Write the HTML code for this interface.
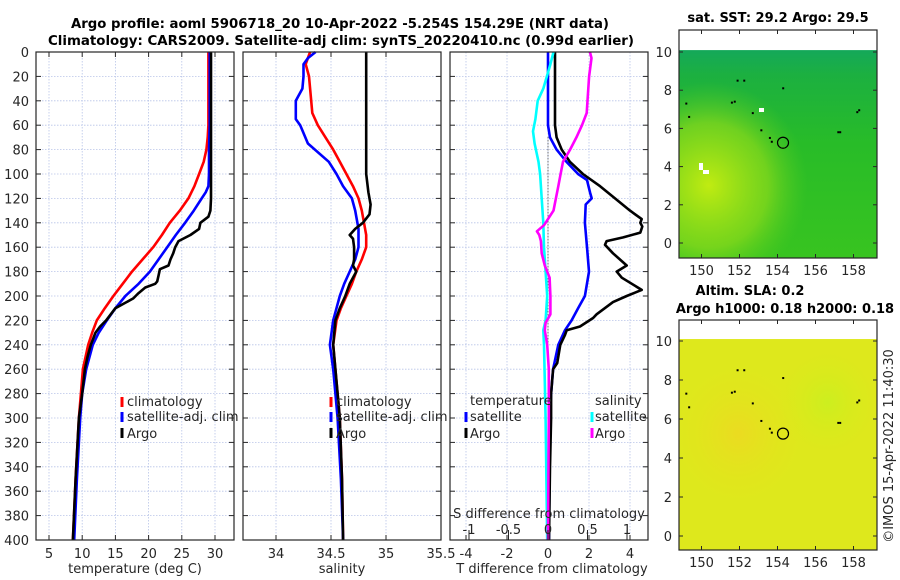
<!DOCTYPE html>
<html><head><meta charset="utf-8"><style>
html,body{margin:0;padding:0;background:#fff;}
svg{display:block;font-family:"DejaVu Sans","Liberation Sans",sans-serif;}
</style></head><body>
<svg id="fig" width="900" height="580" viewBox="0 0 900 580" xmlns="http://www.w3.org/2000/svg">
<defs>
<linearGradient id="sstg" x1="0" y1="0" x2="0" y2="1">
<stop offset="0" stop-color="#14a85a"/><stop offset="0.12" stop-color="#1cb040"/><stop offset="0.45" stop-color="#28bc28"/><stop offset="1" stop-color="#38c420"/>
</linearGradient>
<radialGradient id="sstw" cx="0.15" cy="0.65" r="0.5">
<stop offset="0" stop-color="#c8ee10" stop-opacity="0.95"/><stop offset="0.6" stop-color="#a0e018" stop-opacity="0.6"/><stop offset="1" stop-color="#60d020" stop-opacity="0"/>
</radialGradient>
<radialGradient id="slao" cx="0.3" cy="0.45" r="0.35">
<stop offset="0" stop-color="#eed822" stop-opacity="0.8"/><stop offset="1" stop-color="#e2e61a" stop-opacity="0"/>
</radialGradient>
<radialGradient id="slag" cx="0.75" cy="0.3" r="0.25">
<stop offset="0" stop-color="#c8f020" stop-opacity="0.8"/><stop offset="1" stop-color="#d8ec18" stop-opacity="0"/>
</radialGradient>
</defs>
<g id="root"></g>
</svg>
<script>
// ---------- data ----------
const depthTicks = [0,20,40,60,80,100,120,140,160,180,200,220,240,260,280,300,320,340,360,380,400];
const tempTicks = [5,10,15,20,25,30];
const salTicks = [34,34.5,35,35.5];
const tdiffTicks = [-4,-2,0,2,4];
const sdiffTicks = [-1,-0.5,0,0.5,1];
const sdiffTickLabels = ["-1","-0.5","0","0.5","1"];

const climTDepth = [0,20,40,60,70,80,90,100,110,120,130,140,150,160,170,180,190,200,210,220,230,240,260,280,300,350,400];
const climTemp   = [29.0,29.0,29.0,29.0,28.9,28.7,28.3,27.6,26.9,26.0,24.7,23.2,22.0,20.7,19.1,17.5,16.1,14.7,13.4,12.2,11.5,10.9,10.1,9.8,9.5,9.0,8.6];
const satTDepth = [0,20,40,60,80,100,110,115,120,130,140,150,160,170,180,190,200,210,220,230,240,260,280,300,350,400];
const satTemp   = [29.2,29.2,29.2,29.2,29.1,29.1,29.0,28.6,28.0,26.8,25.5,24.1,22.8,21.5,20.2,18.5,16.5,15.0,13.7,12.5,11.6,10.6,10.0,9.7,9.2,8.8];
const argoTDepth = [0,40,80,120,130,135,140,145,150,155,160,165,170,175,178,183,188,190,193,198,202,210,220,225,230,240,250,260,280,300,350,400];
const argoTemp   = [29.4,29.4,29.4,29.4,29.3,29.0,27.8,27.6,26.3,24.5,24.0,23.7,23.3,23.0,21.7,21.5,21.3,21.0,19.5,18.4,17.7,15.0,13.6,12.7,12.0,11.3,10.8,10.4,10.0,9.5,9.0,8.6];

const climSDepth = [0,10,20,40,50,60,70,80,90,100,110,120,130,140,150,160,170,180,190,200,210,220,240,260,280,300,350,400];
const climSal    = [34.31,34.27,34.30,34.32,34.33,34.38,34.45,34.52,34.58,34.64,34.70,34.75,34.78,34.80,34.82,34.82,34.78,34.73,34.69,34.64,34.59,34.55,34.52,34.54,34.56,34.58,34.60,34.61];
const satSDepth = [0,5,10,20,30,40,55,60,75,90,100,110,120,130,145,160,170,180,190,200,210,220,240,260,300,350,400];
const satSal    = [34.36,34.29,34.25,34.25,34.24,34.18,34.18,34.22,34.29,34.48,34.55,34.61,34.69,34.72,34.75,34.75,34.72,34.67,34.62,34.58,34.55,34.52,34.49,34.52,34.56,34.59,34.61];
const argoSDepth = [0,50,100,115,125,133,140,145,150,153,160,170,175,180,190,200,210,220,240,260,300,350,400];
const argoSal    = [34.82,34.82,34.82,34.84,34.86,34.85,34.79,34.72,34.67,34.70,34.71,34.71,34.70,34.73,34.67,34.63,34.58,34.54,34.52,34.54,34.58,34.60,34.61];

const dTsatDepth = [0,60,70,80,90,100,105,115,120,125,140,160,180,200,210,220,228,240,260,280,300,400];
const dTsat      = [0.0,0.0,0.1,0.42,0.9,1.47,1.9,2.05,2.13,1.84,1.8,1.9,2.0,1.8,1.47,1.15,0.83,0.5,0.25,0.15,0.1,0.05];
const dTargoDepth = [0,60,70,80,90,100,110,120,130,137,140,143,148,152,155,158,165,175,180,185,195,200,205,215,218,225,228,232,240,255,260,280,300,340,400];
const dTargo      = [0.34,0.34,0.42,0.67,1.07,1.7,2.54,3.27,4.0,4.57,4.5,4.6,4.5,3.67,2.86,2.78,3.17,3.84,3.35,3.6,4.57,3.84,3.17,2.37,2.2,1.56,0.91,0.83,0.6,0.45,0.25,0.15,0.15,0.1,0.05];
const dSsatDepth = [0,10,30,40,55,65,75,90,100,120,140,160,180,200,220,228,240,300,400];
const dSsat      = [0.07,0.03,-0.06,-0.13,-0.16,-0.19,-0.17,-0.12,-0.1,-0.08,-0.06,-0.05,-0.03,-0.01,-0.03,-0.06,-0.05,-0.03,-0.01];
const dSargoDepth = [0,5,20,40,50,60,70,80,90,100,110,120,130,137,142,147,150,155,165,175,185,200,215,222,228,240,260,300,400];
const dSargo      = [0.53,0.55,0.52,0.5,0.49,0.43,0.36,0.28,0.19,0.16,0.13,0.1,0.07,0.0,-0.05,-0.14,-0.11,-0.09,-0.08,-0.04,0.02,0.03,0.03,-0.03,-0.04,-0.01,0.01,0.01,0.0];

const mapLatTicks = [0,2,4,6,8,10];
const mapLonTicks = [150,152,154,156,158];
const argoLon = 154.29, argoLat = 5.25;
const islandLon = [151.6,151.75,151.9,152.25,152.7,153.15,153.6,153.7,154.3,157.2,157.3,158.2,158.3,149.2,149.35];
const islandLat = [7.35,7.4,8.5,8.5,6.8,5.9,5.5,5.3,8.1,5.8,5.8,6.85,6.95,7.3,6.6];

// ---------- helpers ----------
const NS = "http://www.w3.org/2000/svg";
const root = document.getElementById('root');
function mk(tag, attrs, parent){ const e=document.createElementNS(NS,tag); for(const k in attrs) e.setAttribute(k,attrs[k]); (parent||root).appendChild(e); return e; }
function txt(x,y,s,attrs,parent){ const e=mk('text',Object.assign({x:x,y:y,'font-size':13,fill:'#262626'},attrs||{}),parent); e.textContent=s; return e; }

const Y0=52, Y1=540;
function yD(d){ return Y0 + d/400*(Y1-Y0); }
function lin(d0,d1,r0,r1){ return v => r0 + (v-d0)/(d1-d0)*(r1-r0); }

const xT  = lin(5,30,49,215);
const xS  = lin(34,35.5,276,441);
const xdT = lin(0,4,548,630);
const xdS = lin(0,1,548,627);

function panel(x0,x1,name,xticks,xfun,xlabels){
  const g = mk('g',{});
  
  
  // grid
  depthTicks.forEach(d=>{ if(d>0&&d<400) mk('line',{x1:x0,x2:x1,y1:yD(d),y2:yD(d),stroke:'#b8c4e8','stroke-width':0.8,'stroke-dasharray':'1.5,1.5'},g); });
  xticks.forEach(v=>{ const x=xfun(v); if(x>x0+1&&x<x1-1) mk('line',{x1:x,x2:x,y1:Y0,y2:Y1,stroke:'#b8c4e8','stroke-width':0.8,'stroke-dasharray':'1.5,1.5'},g); });
  return g;
}
function frame(x0,x1,g,xticks,xfun,topTicks){
  depthTicks.forEach(d=>{ const y=yD(d);
    mk('line',{x1:x0,x2:x0+5,y1:y,y2:y,stroke:'#262626','stroke-width':1},g);
    mk('line',{x1:x1-5,x2:x1,y1:y,y2:y,stroke:'#262626','stroke-width':1},g); });
  xticks.forEach(v=>{ const x=xfun(v);
    mk('line',{x1:x,x2:x,y1:Y1,y2:Y1-5,stroke:'#262626','stroke-width':1},g);
    if(topTicks) mk('line',{x1:x,x2:x,y1:Y0,y2:Y0+5,stroke:'#262626','stroke-width':1},g); });
  mk('rect',{x:x0,y:Y0,width:x1-x0,height:Y1-Y0,fill:'none',stroke:'#262626','stroke-width':1.2},g);
}
function line(g,depths,vals,xfun,color,name,w){
  const pts = depths.map((d,i)=>xfun(vals[i]).toFixed(1)+','+yD(d).toFixed(1)).join(' ');
  const p = mk('polyline',{points:pts,fill:'none',stroke:color,'stroke-width':w||2.6,'stroke-linejoin':'round'},g);
  
  
  return p;
}
function legendMark(g,x,y,color){ mk('line',{x1:x,x2:x,y1:y-10,y2:y,stroke:color,'stroke-width':3},g); }

// ---------- titles ----------
const t1 = txt(340,28,"Argo profile: aoml 5906718_20 10-Apr-2022 -5.254S 154.29E (NRT data)",{'font-weight':'bold','text-anchor':'middle',fill:'#000',textLength:538,lengthAdjust:'spacingAndGlyphs'});
 
const t2 = txt(341,45,"Climatology: CARS2009. Satellite-adj clim: synTS_20220410.nc (0.99d earlier)",{'font-weight':'bold','text-anchor':'middle',fill:'#000',textLength:586,lengthAdjust:'spacingAndGlyphs'});
 

// y tick labels
depthTicks.forEach(d=>{ const e=txt(29,yD(d)+5,String(d),{'text-anchor':'end'});
    });

// ---------- panel 1: temperature ----------
const g1 = panel(36,234,'temperature-panel',tempTicks,xT);
line(g1,climTDepth,climTemp,xT,'#ff0000','climatology-temp-line');
line(g1,satTDepth,satTemp,xT,'#0000ff','satellite-temp-line');
line(g1,argoTDepth,argoTemp,xT,'#000000','argo-temp-line');
frame(36,234,g1,tempTicks,xT,true);
tempTicks.forEach(v=>txt(xT(v),558,String(v),{'text-anchor':'middle'},g1));
const xl1=txt(135,573,"temperature (deg C)",{'text-anchor':'middle'},g1);
 
const lg1 = mk('g',{},g1);  
legendMark(lg1,122,407,'#ff0000'); txt(127,406,"climatology",{},lg1);
legendMark(lg1,122,422,'#0000ff'); txt(127,421,"satellite-adj. clim",{},lg1);
legendMark(lg1,122,438,'#000000'); txt(127,438,"Argo",{},lg1);

// ---------- panel 2: salinity ----------
const g2 = panel(243,441,'salinity-panel',salTicks,xS);
line(g2,climSDepth,climSal,xS,'#ff0000','climatology-salinity-line');
line(g2,satSDepth,satSal,xS,'#0000ff','satellite-salinity-line');
line(g2,argoSDepth,argoSal,xS,'#000000','argo-salinity-line');
frame(243,441,g2,salTicks,xS,true);
salTicks.forEach(v=>txt(xS(v),558,String(v),{'text-anchor':'middle'},g2));
const xl2=txt(342,573,"salinity",{'text-anchor':'middle'},g2);
 
const lg2 = mk('g',{},g2);  
legendMark(lg2,331,407,'#ff0000'); txt(336,406,"climatology",{},lg2);
legendMark(lg2,331,422,'#0000ff'); txt(336,421,"satellite-adj. clim",{},lg2);
legendMark(lg2,331,438,'#000000'); txt(336,438,"Argo",{},lg2);

// ---------- panel 3: differences ----------
const g3 = panel(450,648,'difference-panel',tdiffTicks,xdT);
mk('line',{x1:548,x2:548,y1:yD(70),y2:Y1,stroke:'#333','stroke-width':1,'stroke-dasharray':'1,2'},g3);
line(g3,dTsatDepth,dTsat,xdT,'#0000ff','satellite-temp-diff-line');
line(g3,dTargoDepth,dTargo,xdT,'#000000','argo-temp-diff-line');
line(g3,dSsatDepth,dSsat,xdS,'#00ffff','satellite-salinity-diff-line');
line(g3,dSargoDepth,dSargo,xdS,'#ff00ff','argo-salinity-diff-line');
frame(450,648,g3,tdiffTicks,xdT,false);
tdiffTicks.forEach(v=>txt(xdT(v),558,String(v),{'text-anchor':'middle'},g3));
sdiffTicks.forEach((v,i)=>{ const x=xdS(v);
  mk('line',{x1:x,x2:x,y1:Y1,y2:Y1-10,stroke:'#262626','stroke-width':1},g3);
  txt(x,534,sdiffTickLabels[i],{'text-anchor':'middle'},g3); });
const sd=txt(549,518,"S difference from climatology",{'text-anchor':'middle'},g3);
 
const td=txt(552,573,"T difference from climatology",{'text-anchor':'middle'},g3);
 
const lg3 = mk('g',{},g3);  
txt(470,405,"temperature",{},lg3); txt(595,405,"salinity",{},lg3);
legendMark(lg3,466,422,'#0000ff'); txt(470,421,"satellite",{},lg3);
legendMark(lg3,466,438,'#000000'); txt(470,438,"Argo",{},lg3);
legendMark(lg3,592,422,'#00ffff'); txt(595,421,"satellite",{},lg3);
legendMark(lg3,592,438,'#ff00ff'); txt(595,438,"Argo",{},lg3);

// ---------- maps ----------
const MX0=679, MX1=877;
const xLon = lin(150,158,701.5,853.5);
function map(name,top,bot,y10,y0,fillFn,titles){
  const g = mk('g',{});
  
  
  const yLat = lin(0,10,y0,y10);
  const dTop = yLat(10.1);
  fillFn(g,dTop,bot);
  islandLon.forEach((lo,i)=>{ const d=mk('rect',{x:xLon(lo)-1,y:yLat(islandLat[i])-1,width:2,height:2,fill:'#000'},g);
      });
  const c=mk('circle',{cx:xLon(argoLon),cy:yLat(argoLat),r:5.5,fill:'none',stroke:'#000','stroke-width':1.2},g);
   
  mk('rect',{x:MX0,y:top,width:MX1-MX0,height:bot-top,fill:'none',stroke:'#262626','stroke-width':1.2},g);
  mapLatTicks.forEach(v=>{ const y=yLat(v);
    mk('line',{x1:MX0,x2:MX0+4,y1:y,y2:y,stroke:'#262626'},g);
    mk('line',{x1:MX1-4,x2:MX1,y1:y,y2:y,stroke:'#262626'},g);
    txt(672,y+5,String(v),{'text-anchor':'end'},g); });
  mapLonTicks.forEach(v=>{ const x=xLon(v);
    mk('line',{x1:x,x2:x,y1:bot,y2:bot-4,stroke:'#262626'},g);
    mk('line',{x1:x,x2:x,y1:top,y2:top+4,stroke:'#262626'},g);
    txt(x,bot+17,String(v),{'text-anchor':'middle'},g); });
  titles.forEach(t=>{ const e=txt(t[1],t[2],t[0],{'font-weight':'bold','text-anchor':'middle',fill:'#000'},g);
      });
}
map('sst-map',30,258,52,243,(g,t,b)=>{
  mk('rect',{x:MX0,y:t,width:MX1-MX0,height:b-t,fill:'url(#sstg)'},g);
  mk('rect',{x:MX0,y:t,width:MX1-MX0,height:b-t,fill:'url(#sstw)'},g);
  mk('rect',{x:759,y:108,width:5,height:4,fill:'#fff'},g);
  mk('rect',{x:699,y:163,width:4,height:7,fill:'#fff'},g);
  mk('rect',{x:703,y:170,width:6,height:4,fill:'#fff'},g);
},[["sat. SST: 29.2 Argo: 29.5",778,22]]);
map('sla-map',320,550,341,536,(g,t,b)=>{
  mk('rect',{x:MX0,y:t,width:MX1-MX0,height:b-t,fill:'#dee81c'},g);
  mk('rect',{x:MX0,y:t,width:MX1-MX0,height:b-t,fill:'url(#slao)'},g);
  mk('rect',{x:MX0,y:t,width:MX1-MX0,height:b-t,fill:'url(#slag)'},g);
},[["Altim. SLA: 0.2",750,295],["Argo h1000: 0.18 h2000: 0.18",785,313]]);

const cp = txt(893,446,"©IMOS 15-Apr-2022 11:40:30",{'text-anchor':'middle',transform:'rotate(-90 893 446)'});
 
</script>
</body></html>
